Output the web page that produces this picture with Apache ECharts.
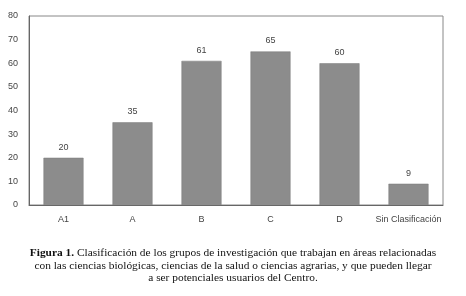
<!DOCTYPE html>
<html><head><meta charset="utf-8">
<script src="https://cdn.jsdelivr.net/npm/echarts@6/dist/echarts.min.js"></script>
<style>html,body{margin:0;padding:0;background:#fff}#c{width:466px;height:296px}</style>
</head><body><div id="c"></div>
<script>
const categories = ["A1", "A", "B", "C", "D", "Sin Clasificación"];
const values = [20, 35, 61, 65, 60, 9];
const yTicks = [0, 10, 20, 30, 40, 50, 60, 70, 80];
const captionLines = [
  "Clasificación de los grupos de investigación que trabajan en áreas relacionadas",
  "con las ciencias biológicas, ciencias de la salud o ciencias agrarias, y que pueden llegar",
  "a ser potenciales usuarios del Centro."
];
const chart = echarts.init(document.getElementById('c'), null, {renderer: 'canvas'});
chart.setOption({
  animation: false,
  backgroundColor: '#fff',
  title: {
    text: '{b|Figura 1.}{n| ' + captionLines[0] + '}\n{n|' + captionLines[1] + '}\n{n|' + captionLines[2] + '}',
    left: 'center', top: 242,
    textStyle: {
      fontWeight: 'normal', fontSize: 11.4, lineHeight: 12.4, fontFamily: 'Liberation Serif', color: '#111',
      rich: {
        b: {fontFamily: 'Liberation Serif', fontWeight: 'bold', fontSize: 11.4, color: '#111', lineHeight: 12.4},
        n: {fontFamily: 'Liberation Serif', fontWeight: 'normal', fontSize: 11.4, color: '#111', lineHeight: 12.4}
      },
      align: 'center'
    }
  },
  grid: {left: 29, right: 23, top: 16, bottom: 91, show: true, borderColor: '#888', borderWidth: 1},
  xAxis: {
    type: 'category', data: categories,
    axisLine: {lineStyle: {color: '#666'}},
    axisTick: {show: false},
    axisLabel: {interval: 0, color: '#444', fontFamily: 'Liberation Sans', fontSize: 9, margin: 10}
  },
  yAxis: {
    type: 'value', min: 0, max: 80, interval: 10,
    axisLine: {show: true, lineStyle: {color: '#666'}},
    axisTick: {show: false},
    splitLine: {show: false},
    axisLabel: {color: '#444', fontFamily: 'Liberation Sans', fontSize: 9, margin: 11}
  },
  series: [{
    type: 'bar', data: values, barWidth: '58%',
    itemStyle: {color: '#8c8c8c', borderColor: '#7a7a7a', borderWidth: 0.5},
    label: {show: true, position: 'top', distance: 6, color: '#444', fontFamily: 'Liberation Sans', fontSize: 9}
  }]
});
</script></body></html>
